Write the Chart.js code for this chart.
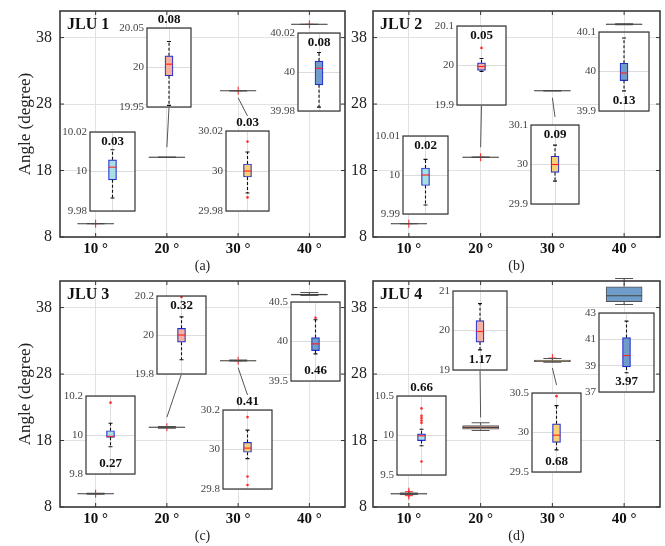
<!DOCTYPE html>
<html>
<head>
<meta charset="utf-8">
<script src="https://cdn.jsdelivr.net/npm/chart.js@4.4.1/dist/chart.umd.min.js"></script>
<style>
  body { margin: 0; background: #fff; }
  #wrap { position: relative; width: 665px; height: 546px; overflow: hidden; }
  #wrap canvas { position: absolute; }
</style>
</head>
<body>
<div id="wrap"></div>
<script>
// ---- data ----
const categories = ['10 °', '20 °', '30 °', '40 °'];
const panelNames = ['JLU 1', 'JLU 2', 'JLU 3', 'JLU 4'];
const subCaptions = ['(a)', '(b)', '(c)', '(d)'];
const mainTicks = [8, 18, 28, 38];

// box stats per angle: [lower whisker, q1, median, q3, upper whisker]
const jlu1Stats = [
  [9.9866, 9.9958, 10.0022, 10.0059, 10.011],
  [19.952, 19.9894, 20.0042, 20.0148, 20.033],
  [29.989, 29.997, 30.0, 30.0035, 30.0095],
  [39.982, 39.9934, 40.0019, 40.0056, 40.010]
];
const jlu2Stats = [
  [9.9923, 9.9973, 10.0, 10.0018, 10.004],
  [19.985, 19.9874, 19.9975, 20.0067, 20.0176],
  [29.958, 29.980, 30.0, 30.021, 30.049],
  [39.951, 39.977, 39.996, 40.021, 40.085]
];
const jlu3Stats = [
  [9.94, 9.988, 9.9932, 10.022, 10.06],
  [19.873, 19.963, 20.0, 20.034, 20.093],
  [29.954, 29.986, 30.007, 30.036, 30.098],
  [39.843, 39.885, 39.97, 40.05, 40.275]
];
const jlu4Stats = [
  [9.87, 9.936, 9.996, 10.021, 10.08],
  [19.51, 19.706, 19.975, 20.25, 20.68],
  [29.78, 29.876, 29.966, 30.11, 30.34],
  [38.46, 38.9, 39.77, 41.13, 42.38]
];

// outliers shown in the zoomed insets
const jlu1Outliers = [[], [], [30.0147, 29.9868], []];
const jlu2Outliers = [[], [20.0445], [], []];
const jlu3Outliers = [[10.215, 10.166], [20.195], [30.164, 29.863, 29.82], [40.3]];
const jlu4Outliers = [[10.343, 10.25, 10.22, 10.19, 10.16, 9.67], [], [30.46], []];

// outlier crosses shown on the full-range axes
const jlu1MainOutliers = [[10.0], [], [30.0], [40.0]];
const jlu2MainOutliers = [[10.0], [20.0], [], []];
const jlu3MainOutliers = [[10.0], [20.0], [30.0], []];
const jlu4MainOutliers = [[10.3, 10.0, 9.7], [], [30.4], []];

// spread written above each inset
const jlu1Ranges = ['0.03', '0.08', '0.03', '0.08'];
const jlu2Ranges = ['0.02', '0.05', '0.09', '0.13'];
const jlu3Ranges = ['0.27', '0.32', '0.41', '0.46'];
const jlu4Ranges = ['0.66', '1.17', '0.68', '3.97'];

// inset y ticks (first = min, last = max)
const jlu1InsetTicks = [[9.98, 10, 10.02], [19.95, 20, 20.05], [29.98, 30, 30.02], [39.98, 40, 40.02]];
const jlu2InsetTicks = [[9.99, 10, 10.01], [19.9, 20, 20.1], [29.9, 30, 30.1], [39.9, 40, 40.1]];
const jlu3InsetTicks = [[9.8, 10, 10.2], [19.8, 20, 20.2], [29.8, 30, 30.2], [39.5, 40, 40.5]];
const jlu4InsetTicks = [[9.5, 10, 10.5], [19, 20, 21], [29.5, 30, 30.5], [37, 39, 41, 43]];

// ---- layout / style ----
const panels = [
  { stats: jlu1Stats, outliers: jlu1Outliers, mainOutliers: jlu1MainOutliers, ranges: jlu1Ranges, insetTicks: jlu1InsetTicks },
  { stats: jlu2Stats, outliers: jlu2Outliers, mainOutliers: jlu2MainOutliers, ranges: jlu2Ranges, insetTicks: jlu2InsetTicks },
  { stats: jlu3Stats, outliers: jlu3Outliers, mainOutliers: jlu3MainOutliers, ranges: jlu3Ranges, insetTicks: jlu3InsetTicks },
  { stats: jlu4Stats, outliers: jlu4Outliers, mainOutliers: jlu4MainOutliers, ranges: jlu4Ranges, insetTicks: jlu4InsetTicks }
];

const panelBoxes = [
  { left: 0, top: 0, width: 350, padLeft: 12, padRight: 4, axisWidth: 48, yTitle: true, tickPad: 8 },
  { left: 340, top: 0, width: 325, padLeft: 0, padRight: 5, axisWidth: 33, yTitle: false, tickPad: 6 },
  { left: 0, top: 270, width: 350, padLeft: 12, padRight: 4, axisWidth: 48, yTitle: true, tickPad: 8 },
  { left: 340, top: 270, width: 325, padLeft: 0, padRight: 5, axisWidth: 33, yTitle: false, tickPad: 6 }
];

// inset frames in page pixels: [left, top, right, bottom]
const insetRects = [
  [[90, 132, 135, 211], [147, 28, 191, 107], [226, 131, 269, 211], [298, 33, 340, 111]],
  [[403, 136, 448, 214], [457, 26, 506, 105], [531, 125, 579, 204], [599, 32, 649, 111]],
  [[86, 396, 135, 474], [157, 296, 206, 374], [223, 410, 272, 489], [291, 302, 340, 381]],
  [[397, 396, 446, 475], [453, 291, 507, 370], [532, 393, 581, 472], [599, 313, 654, 392]]
];
const labelPlaces = [
  ['top', 'above', 'above', 'top'],
  ['top', 'top', 'top', 'bottom'],
  ['bottom', 'top', 'above', 'bottom'],
  ['above', 'bottom', 'bottom', 'bottom']
];

const fillColors = ['#a6e0e4', '#f5b2a0', '#f7cf74', '#6f9cc8'];
const insetEdge = '#2430d0';
const serif = "'Liberation Serif', 'Times New Roman', serif";

Chart.defaults.font.family = serif;
Chart.defaults.color = '#222';

const wrap = document.getElementById('wrap');
function makeCanvas(left, top, w, h) {
  const c = document.createElement('canvas');
  c.width = w; c.height = h;
  c.style.left = left + 'px'; c.style.top = top + 'px';
  c.style.width = w + 'px'; c.style.height = h + 'px';
  wrap.appendChild(c);
  return c;
}

// whiskers, caps and medians on top of the floating bars
const boxWhiskers = {
  id: 'boxWhiskers',
  afterDatasetsDraw(chart, args, o) {
    if (!o.stats) return;
    const { ctx, scales: { x, y } } = chart;
    ctx.save();
    o.stats.forEach((s, i) => {
      const px = x.getPixelForValue(i);
      const [lo, q1, med, q3, hi] = s.map(v => y.getPixelForValue(v));
      ctx.lineWidth = 1.1;
      ctx.strokeStyle = o.whiskerColor;
      ctx.setLineDash(o.dash);
      ctx.beginPath();
      ctx.moveTo(px, q3); ctx.lineTo(px, hi);
      ctx.moveTo(px, q1); ctx.lineTo(px, lo);
      ctx.stroke();
      ctx.setLineDash([]);
      ctx.beginPath();
      ctx.moveTo(px - o.capWidth / 2, hi); ctx.lineTo(px + o.capWidth / 2, hi);
      ctx.moveTo(px - o.capWidth / 2, lo); ctx.lineTo(px + o.capWidth / 2, lo);
      ctx.stroke();
      ctx.strokeStyle = o.medianColor;
      ctx.beginPath();
      ctx.moveTo(px - o.boxWidth / 2, med); ctx.lineTo(px + o.boxWidth / 2, med);
      ctx.stroke();
    });
    ctx.restore();
  }
};

// frame, inward ticks, panel name and leader lines for the main axes
const mainFrame = {
  id: 'mainFrame',
  beforeDatasetsDraw(chart, args, o) {
    if (!o.connectors) return;
    const { ctx, scales: { x, y } } = chart;
    ctx.save();
    ctx.strokeStyle = '#555';
    ctx.lineWidth = 1;
    o.connectors.forEach(c => {
      const sx = x.getPixelForValue(c.cat);
      const sy = y.getPixelForValue(c.value) + c.gap;
      ctx.beginPath();
      ctx.moveTo(sx, sy);
      ctx.lineTo(c.toX - o.offsetX, c.toY - o.offsetY);
      ctx.stroke();
    });
    ctx.restore();
  },
  afterDraw(chart, args, o) {
    if (!o.name) return;
    const { ctx, chartArea: a, scales: { x, y } } = chart;
    ctx.save();
    ctx.strokeStyle = '#333';
    ctx.lineWidth = 1;
    y.ticks.forEach(t => {
      const py = y.getPixelForValue(t.value);
      ctx.beginPath();
      ctx.moveTo(a.left, py); ctx.lineTo(a.left + 4, py);
      ctx.moveTo(a.right, py); ctx.lineTo(a.right - 4, py);
      ctx.stroke();
    });
    categories.forEach((c, i) => {
      const px = x.getPixelForValue(i);
      ctx.beginPath();
      ctx.moveTo(px, a.bottom); ctx.lineTo(px, a.bottom - 4);
      ctx.moveTo(px, a.top); ctx.lineTo(px, a.top + 4);
      ctx.stroke();
    });
    ctx.lineWidth = 1.6;
    ctx.strokeStyle = '#3a3a3a';
    ctx.strokeRect(a.left, a.top, a.right - a.left, a.bottom - a.top);
    ctx.fillStyle = '#111';
    ctx.font = 'bold 16px ' + serif;
    ctx.textBaseline = 'middle';
    ctx.textAlign = 'left';
    ctx.fillText(o.name, a.left + 7, a.top + 14);
    ctx.restore();
  }
};

// white background, frame and spread label for the insets
const insetFrame = {
  id: 'insetFrame',
  beforeDraw(chart, args, o) {
    if (!o.label) return;
    const { ctx, chartArea: a } = chart;
    ctx.save();
    ctx.fillStyle = '#fff';
    ctx.fillRect(a.left, a.top, a.right - a.left, a.bottom - a.top);
    ctx.restore();
  },
  afterDraw(chart, args, o) {
    if (!o.label) return;
    const { ctx, chartArea: a } = chart;
    ctx.save();
    ctx.strokeStyle = '#333';
    ctx.lineWidth = 1.2;
    ctx.strokeRect(a.left, a.top, a.right - a.left, a.bottom - a.top);
    ctx.fillStyle = '#111';
    ctx.font = 'bold 13px ' + serif;
    ctx.textAlign = 'center';
    ctx.textBaseline = 'middle';
    const cx = (a.left + a.right) / 2;
    const cy = o.place === 'above' ? a.top - 8 : o.place === 'top' ? a.top + 10 : a.bottom - 10;
    ctx.fillText(o.label, cx, cy);
    ctx.restore();
  }
};

Chart.register(boxWhiskers, mainFrame, insetFrame);

// ---- main panels ----
panels.forEach((p, k) => {
  const b = panelBoxes[k];
  const height = 275;
  const canvas = makeCanvas(b.left, b.top, b.width, height);
  const connectors = [1, 2].map(i => {
    const r = insetRects[k][i];
    const cx = (r[0] + r[2]) / 2;
    if (i === 1) return { cat: i, value: p.stats[i][2], gap: -10, toX: cx, toY: r[3] };
    return { cat: i, value: p.stats[i][2], gap: 7, toX: cx, toY: r[1] - (labelPlaces[k][i] === 'above' ? 15 : 8) };
  });
  const outlierPts = [];
  p.mainOutliers.forEach((list, i) => list.forEach(v => outlierPts.push({ x: categories[i], y: v })));

  new Chart(canvas, {
    type: 'bar',
    data: {
      labels: categories,
      datasets: [
        {
          type: 'bar',
          data: p.stats.map(s => [s[1], s[3]]),
          backgroundColor: fillColors,
          borderColor: '#555',
          borderWidth: 1,
          borderSkipped: false,
          barThickness: 36
        },
        {
          type: 'line',
          data: outlierPts,
          showLine: false,
          pointStyle: 'cross',
          pointRadius: 4,
          borderColor: '#ff2020',
          borderWidth: 1
        }
      ]
    },
    options: {
      responsive: false,
      animation: false,
      devicePixelRatio: 1,
      layout: { padding: { left: b.padLeft, right: b.padRight, top: 11, bottom: 0 } },
      plugins: {
        legend: { display: false },
        tooltip: { enabled: false },
        boxWhiskers: { stats: p.stats, capWidth: 18, boxWidth: 36, whiskerColor: '#555', medianColor: '#444', dash: [3, 2] },
        mainFrame: { name: panelNames[k], connectors, offsetX: b.left, offsetY: b.top },
        insetFrame: {}
      },
      scales: {
        x: {
          grid: { color: '#e2e2e2', offset: false, drawTicks: false },
          border: { display: false },
          ticks: { color: '#111', font: { size: 15, weight: 'bold' }, padding: 3 },
          title: { display: true, text: subCaptions[k], color: '#222', font: { size: 14 }, padding: { top: 0, bottom: 0 } },
          afterFit: s => { s.height = 38; }
        },
        y: {
          min: 8, max: 42,
          afterBuildTicks: s => { s.ticks = mainTicks.map(v => ({ value: v })); },
          grid: { color: '#e2e2e2', drawTicks: false },
          border: { display: false },
          ticks: { color: '#222', font: { size: 16 }, padding: b.tickPad, callback: v => String(v) },
          title: { display: b.yTitle, text: 'Angle (degree)', color: '#222', font: { size: 17 }, padding: { top: 3, bottom: 0 } },
          afterFit: s => { s.width = b.axisWidth; s.paddingTop = 0; s.paddingBottom = 0; }
        }
      }
    }
  });
});

// ---- zoomed insets ----
panels.forEach((p, k) => {
  categories.forEach((cat, i) => {
    const r = insetRects[k][i];
    const padT = 22, padB = 10, axisW = 38, padR = 4;
    const canvas = makeCanvas(r[0] - axisW, r[1] - padT, r[2] - r[0] + axisW + padR, r[3] - r[1] + padT + padB);
    const ticks = p.insetTicks[i];
    const s = p.stats[i];
    new Chart(canvas, {
      type: 'bar',
      data: {
        labels: [cat],
        datasets: [
          {
            type: 'bar',
            data: [[s[1], s[3]]],
            backgroundColor: fillColors[i],
            borderColor: insetEdge,
            borderWidth: 1.2,
            borderSkipped: false,
            barThickness: 8
          },
          {
            type: 'line',
            data: p.outliers[i].map(v => ({ x: cat, y: v })),
            showLine: false,
            pointStyle: 'circle',
            pointRadius: 1.3,
            pointBorderWidth: 0,
            pointBackgroundColor: '#ff2a2a'
          }
        ]
      },
      options: {
        responsive: false,
        animation: false,
        devicePixelRatio: 1,
        layout: { padding: { left: 0, right: padR, top: padT, bottom: padB } },
        plugins: {
          legend: { display: false },
          tooltip: { enabled: false },
          boxWhiskers: { stats: [s], capWidth: 4, boxWidth: 8, whiskerColor: '#111', medianColor: '#ff2020', dash: [3, 2] },
          mainFrame: {},
          insetFrame: { label: p.ranges[i], place: labelPlaces[k][i] }
        },
        scales: {
          x: {
            grid: { color: '#dcdcdc', offset: false, drawTicks: false },
            border: { display: false },
            ticks: { display: false },
            afterFit: sc => { sc.height = 0; }
          },
          y: {
            min: ticks[0], max: ticks[ticks.length - 1],
            afterBuildTicks: sc => { sc.ticks = ticks.map(v => ({ value: v })); },
            grid: { color: '#dcdcdc', drawTicks: false },
            border: { display: false },
            ticks: { color: '#444', font: { size: 11 }, padding: 3, autoSkip: false, callback: v => String(v) },
            afterFit: sc => { sc.width = axisW; }
          }
        }
      }
    });
  });
});
</script>
</body>
</html>
